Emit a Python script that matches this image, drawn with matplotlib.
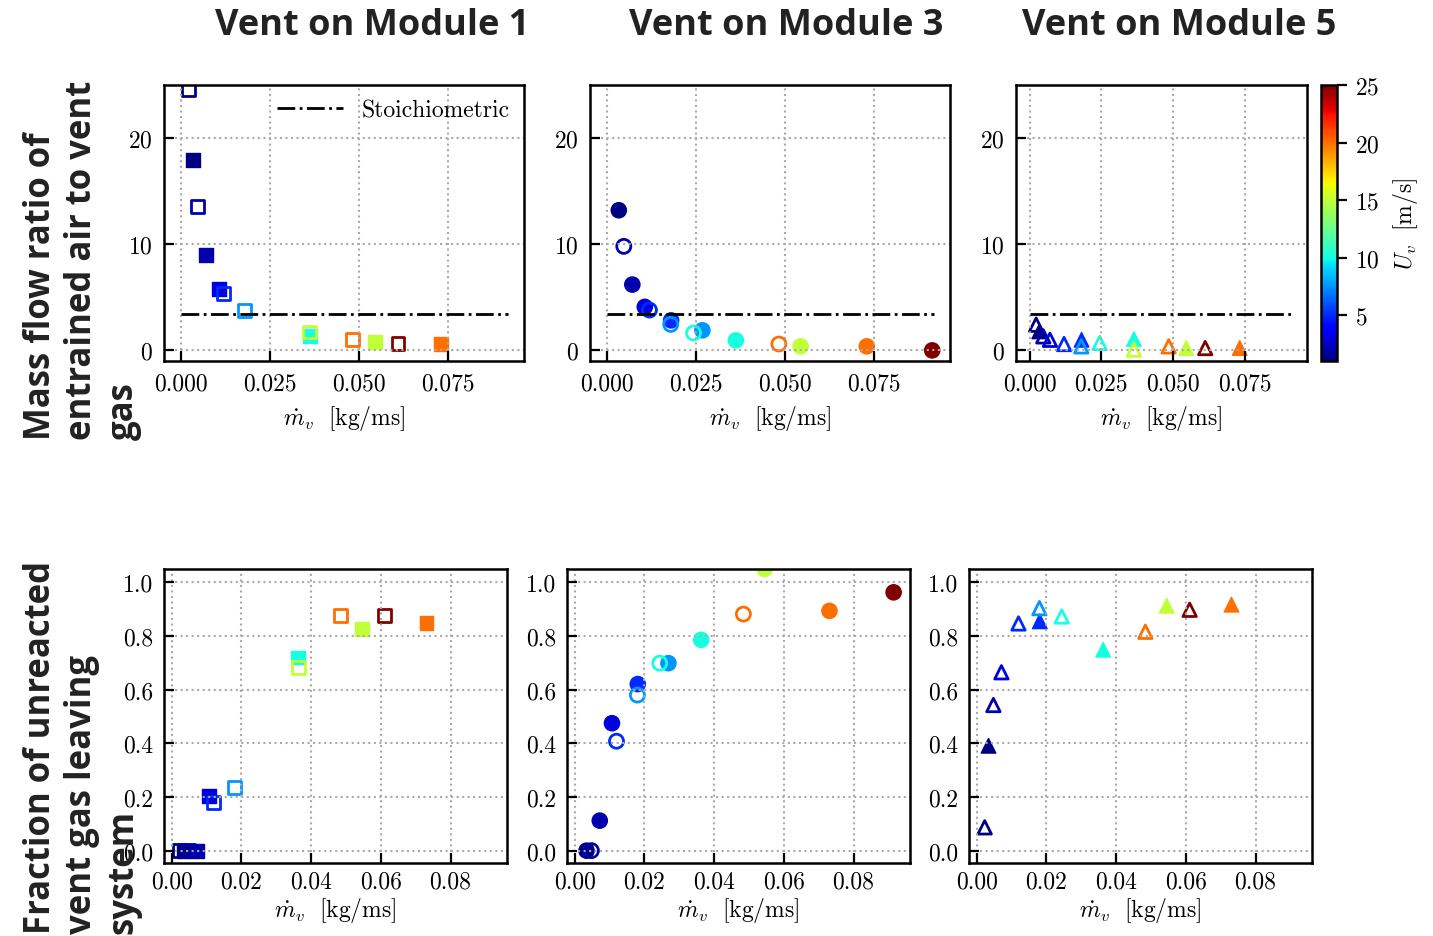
import numpy as np
import matplotlib
matplotlib.use("Agg")
import matplotlib.pyplot as plt
from matplotlib.colors import Normalize

nan = np.nan

# conditions: open markers and filled markers (mdot [kg/ms], Uv [m/s])
mdot_open = [0.0023, 0.0048, 0.0071, 0.0120, 0.0180, 0.0244, 0.0363, 0.0484, 0.0611]
uv_open = [1, 2, 3, 5, 7.5, 10, 15, 20, 25]
mdot_fill = [0.0034, 0.0072, 0.0107, 0.0181, 0.0269, 0.0363, 0.0545, 0.0731, 0.0915]
uv_fill = [1, 2, 3, 5, 7.5, 10, 15, 20, 25]

# mass flow ratio of entrained air to vent gas
ratio_m1_open = [24.6, 13.55, nan, 5.33, 3.78, nan, 1.74, 1.01, 0.63]
ratio_m1_fill = [17.9, 8.98, 5.8, nan, nan, 1.32, 0.79, 0.63, nan]
ratio_m3_open = [nan, 9.8, nan, 3.8, 2.45, 1.64, nan, 0.6, nan]
ratio_m3_fill = [13.2, 6.2, 4.1, 2.83, 1.89, 0.94, 0.38, 0.38, 0.0]
ratio_m5_open = [2.42, 1.32, 1.0, 0.6, 0.38, 0.7, 0.07, 0.38, 0.22]
ratio_m5_fill = [1.79, nan, nan, 1.0, nan, 1.07, 0.22, 0.22, nan]

# fraction of unreacted vent gas leaving system
frac_m1_open = [0.0, 0.0, nan, 0.18, 0.236, nan, 0.683, 0.876, 0.876]
frac_m1_fill = [0.0, 0.0, 0.203, nan, nan, 0.72, 0.826, 0.848, nan]
frac_m3_open = [nan, 0.0, nan, 0.408, 0.58, 0.699, nan, 0.882, nan]
frac_m3_fill = [0.0, 0.112, 0.475, 0.621, 0.699, 0.786, 1.05, 0.894, 0.963]
frac_m5_open = [0.087, 0.543, 0.665, 0.847, 0.904, 0.873, nan, 0.816, 0.898]
frac_m5_fill = [0.391, nan, nan, 0.855, nan, 0.749, 0.913, 0.917, nan]

stoich_ratio = 3.4
stoich_x = [0.0, 0.092]

titles = ["Vent on Module 1", "Vent on Module 3", "Vent on Module 5"]
markers = ["s", "o", "^"]
msizes = [100, 120, 110]

plt.rcParams["font.family"] = "serif"
plt.rcParams["font.serif"] = ["cmr10", "DejaVu Serif"]
plt.rcParams["mathtext.fontset"] = "cm"
plt.rcParams["axes.formatter.use_mathtext"] = True
plt.rcParams["font.size"] = 17

W, H = 1433, 937
fig = plt.figure(figsize=(W / 100, H / 100), dpi=100)


def px_axes(left, top, right, bottom):
    return fig.add_axes([left / W, 1 - bottom / H, (right - left) / W, (bottom - top) / H])


top_axes = [px_axes(164, 86, 524, 362), px_axes(590, 86, 950, 362), px_axes(1016, 86, 1307, 362)]
bot_axes = [px_axes(164, 570, 507, 864), px_axes(567, 570, 910, 864), px_axes(969, 570, 1312, 864)]

cmap = plt.get_cmap("jet")
norm = Normalize(vmin=1, vmax=25)

ratio_sets = [(ratio_m1_open, ratio_m1_fill), (ratio_m3_open, ratio_m3_fill), (ratio_m5_open, ratio_m5_fill)]
frac_sets = [(frac_m1_open, frac_m1_fill), (frac_m3_open, frac_m3_fill), (frac_m5_open, frac_m5_fill)]


def style_axes(ax, pad, labelpad):
    for sp in ax.spines.values():
        sp.set_linewidth(1.8)
    ax.tick_params(direction="in", length=7, width=1.6, pad=pad, labelsize=17,
                   top=False, right=False)
    ax.tick_params(axis="y", pad=8)
    ax.grid(True, linestyle=":", color="#aaaaaa", linewidth=1.5)
    ax.set_xlabel(r"$\dot{m}_v\ \ \mathrm{[kg/ms]}$", fontsize=17, labelpad=labelpad)


def draw_points(ax, y_open, y_fill, marker, size):
    ax.scatter(mdot_fill, y_fill, c=uv_fill, cmap=cmap, norm=norm, marker=marker,
               s=size, linewidths=1)
    ax.scatter(mdot_open, y_open, facecolors="none", edgecolors=cmap(norm(np.array(uv_open))),
               marker=marker, s=size * 0.85, linewidths=2)


for i, ax in enumerate(top_axes):
    y_open, y_fill = ratio_sets[i]
    draw_points(ax, y_open, y_fill, markers[i], msizes[i])
    ax.plot(stoich_x, [stoich_ratio, stoich_ratio], "k-.", lw=2, label="Stoichiometric")
    ax.set_xlim(-0.0047, 0.0965)
    ax.set_ylim(-1, 25)
    ax.set_xticks([0.0, 0.025, 0.05, 0.075])
    ax.set_xticklabels(["0.000", "0.025", "0.050", "0.075"])
    ax.set_yticks([0, 10, 20])
    style_axes(ax, 8, 6)

top_axes[0].legend(loc="upper right", frameon=False, fontsize=17, handlelength=2.8,
                   borderaxespad=0.2)

for i, ax in enumerate(bot_axes):
    y_open, y_fill = frac_sets[i]
    draw_points(ax, y_open, y_fill, markers[i], msizes[i])
    ax.set_xlim(-0.0022, 0.0962)
    ax.set_ylim(-0.046, 1.05)
    ax.set_xticks([0.0, 0.02, 0.04, 0.06, 0.08])
    ax.set_xticklabels(["0.00", "0.02", "0.04", "0.06", "0.08"])
    ax.set_yticks([0.0, 0.2, 0.4, 0.6, 0.8, 1.0])
    ax.set_yticklabels(["0.0", "0.2", "0.4", "0.6", "0.8", "1.0"])
    style_axes(ax, 5, 2)

# colorbar
cax = px_axes(1321, 86, 1337, 362)
sm = plt.cm.ScalarMappable(norm=norm, cmap=cmap)
cb = fig.colorbar(sm, cax=cax, ticks=[5, 10, 15, 20, 25])
cb.outline.set_linewidth(1.8)
cax.tick_params(direction="out", length=7, width=1.6, labelsize=17, pad=6)
cb.set_label(r"$U_v\ \ \mathrm{[m/s]}$", fontsize=17, labelpad=8)

# titles and row labels
title_x = [372, 786, 1179]
for t, x in zip(titles, title_x):
    fig.text(x / W, 1 - 26 / H, t, ha="center", va="center", fontsize=26,
             fontweight="bold", family="Open Sans", color="#222222")

fig.text(82 / W, 1 - 440 / H, "Mass flow ratio of\nentrained air to vent\ngas",
         rotation=90, ha="center", va="bottom", multialignment="left",
         fontsize=25, fontweight="bold", family="Open Sans", color="#222222",
         linespacing=1.2)
fig.text(82 / W, 1 - 934 / H, "Fraction of unreacted\nvent gas leaving\nsystem",
         rotation=90, ha="center", va="bottom", multialignment="left",
         fontsize=25, fontweight="bold", family="Open Sans", color="#222222",
         linespacing=1.2)

fig.savefig("out.png", dpi=100)
